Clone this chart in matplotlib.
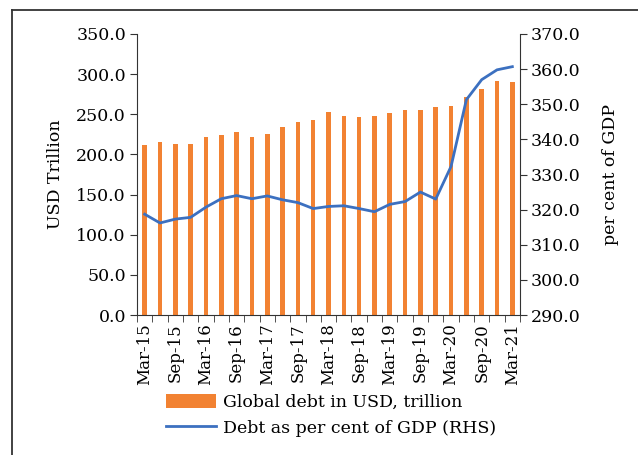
import matplotlib
matplotlib.use("Agg")
import matplotlib.pyplot as plt
from matplotlib.lines import Line2D
import numpy as np

quarters = ["Mar-15", "Jun-15", "Sep-15", "Dec-15", "Mar-16", "Jun-16", "Sep-16", "Dec-16",
            "Mar-17", "Jun-17", "Sep-17", "Dec-17", "Mar-18", "Jun-18", "Sep-18", "Dec-18",
            "Mar-19", "Jun-19", "Sep-19", "Dec-19", "Mar-20", "Jun-20", "Sep-20", "Dec-20",
            "Mar-21"]
debt_usd = [212.0, 215.3, 213.2, 213.6, 221.6, 224.4, 227.8, 221.6, 226.0, 233.6, 239.8, 243.5,
            252.7, 247.7, 246.9, 247.7, 252.2, 255.2, 255.6, 259.4, 260.6, 271.4, 281.4, 291.4,
            290.1]
debt_gdp = [318.7, 316.2, 317.3, 317.8, 320.7, 323.1, 324.0, 323.1, 323.9, 322.8, 322.0, 320.3,
            320.9, 321.1, 320.3, 319.4, 321.5, 322.3, 325.0, 323.0, 332.3, 351.3, 357.0, 359.8,
            360.7]
left_ticks = [0, 50, 100, 150, 200, 250, 300, 350]
right_ticks = [290, 300, 310, 320, 330, 340, 350, 360, 370]

plt.rcParams['font.family'] = ['DejaVu Serif']
FS = 12.5
ORANGE = '#F28232'
BLUE = '#3C70C0'

fig = plt.figure(figsize=(6.38, 4.55), dpi=100)
ax = fig.add_axes([137/638, 1-315/455, (520-137)/638, (315-34)/455])
x = np.arange(len(quarters))
ax.bar(x, debt_usd, width=0.3, color=ORANGE, label="Global debt in USD, trillion", zorder=2)
ax.set_xlim(-0.5, len(quarters)-0.5)
ax.set_ylim(0, 350)
ax.set_yticks(left_ticks)
ax.set_yticklabels([f"{v:.1f}" for v in left_ticks], fontsize=FS)
ax.set_xticks(x[::2])
ax.set_xticklabels(quarters[::2], rotation=90, fontsize=12)
ax.set_xticks(np.arange(-0.5, len(quarters), 1), minor=True)
ax.tick_params(axis='x', which='major', length=0, pad=6)
ax.tick_params(axis='x', which='minor', length=5, direction='out', color='#333333')
ax.tick_params(axis='y', length=5, direction='out', color='#333333', pad=3)
ax.spines['top'].set_visible(False)
ax.spines['right'].set_visible(False)
for s in ['left', 'bottom']:
    ax.spines[s].set_color('#333333')
ax.set_ylabel("USD Trillion", fontsize=FS, labelpad=9)

ax2 = ax.twinx()
ax2.plot(x, debt_gdp, color=BLUE, lw=2.0, label="Debt as per cent of GDP (RHS)", zorder=3)
ax2.set_ylim(290, 370)
ax2.set_yticks(right_ticks)
ax2.set_yticklabels([f"{v:.1f}" for v in right_ticks], fontsize=FS)
ax2.tick_params(axis='y', length=5, direction='out', color='#333333', pad=3)
ax2.spines['top'].set_visible(False)
ax2.spines['left'].set_visible(False)
ax2.spines['bottom'].set_visible(False)
ax2.spines['right'].set_color('#333333')
ax2.set_ylabel("per cent of GDP", fontsize=FS, labelpad=15)

h1, l1 = ax.get_legend_handles_labels()
h2, l2 = ax2.get_legend_handles_labels()
fig.legend(h1 + h2, l1 + l2, loc='upper left', bbox_to_anchor=(166/638, 1-394/455),
           frameon=False, fontsize=FS, handlelength=2.9, handleheight=0.8,
           handletextpad=0.4, labelspacing=0.5, borderpad=0, borderaxespad=0)

fig.add_artist(Line2D([12/638, 1.0], [1-10/455, 1-10/455], transform=fig.transFigure,
                      color='#333333', lw=1.3))
fig.add_artist(Line2D([12/638, 12/638], [0, 1-10/455], transform=fig.transFigure,
                      color='#333333', lw=1.3))

fig.savefig("out.png", dpi=100)
